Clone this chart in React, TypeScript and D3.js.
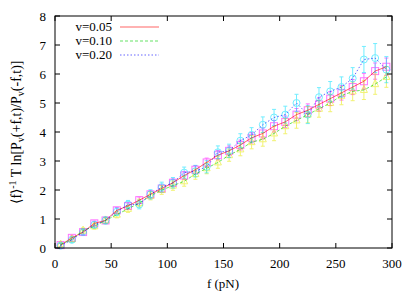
import React from "react";
import * as d3 from "d3";

const forces = [5, 15, 25, 35, 45, 55, 65, 75, 85, 95, 105, 115, 125, 135, 145, 155, 165, 175, 185, 195, 205, 215, 225, 235, 245, 255, 265, 275, 285, 295];

const seriesLabels = ["v=0.05", "v=0.10", "v=0.20"];

const valsV005 = [0.1, 0.35, 0.55, 0.85, 0.95, 1.3, 1.45, 1.65, 1.85, 2.05, 2.25, 2.5, 2.7, 2.95, 3.2, 3.35, 3.55, 3.8, 3.95, 4.2, 4.35, 4.6, 4.75, 4.95, 5.15, 5.35, 5.55, 5.75, 6.1, 6.25];
const valsV010 = [0.12, 0.3, 0.6, 0.75, 0.95, 1.15, 1.35, 1.55, 1.8, 2.0, 2.15, 2.3, 2.55, 2.75, 2.95, 3.2, 3.4, 3.65, 3.75, 3.95, 4.2, 4.4, 4.6, 4.8, 5.0, 5.25, 5.4, 5.45, 5.65, 5.9];
const valsV020 = [0.08, 0.28, 0.55, 0.8, 0.95, 1.25, 1.5, 1.5, 1.85, 2.1, 2.25, 2.6, 2.65, 2.8, 3.3, 3.35, 3.7, 3.9, 4.25, 4.5, 4.6, 5.0, 4.6, 5.2, 5.4, 5.55, 5.85, 6.5, 6.55, 6.15];

const errV005 = [0.06, 0.07, 0.08, 0.08, 0.09, 0.1, 0.1, 0.11, 0.12, 0.12, 0.13, 0.14, 0.14, 0.15, 0.16, 0.17, 0.17, 0.18, 0.19, 0.2, 0.2, 0.21, 0.22, 0.23, 0.24, 0.25, 0.26, 0.27, 0.28, 0.3];
const errV010 = [0.07, 0.08, 0.09, 0.1, 0.1, 0.11, 0.12, 0.13, 0.14, 0.15, 0.16, 0.17, 0.18, 0.19, 0.2, 0.21, 0.22, 0.23, 0.24, 0.25, 0.26, 0.27, 0.28, 0.29, 0.3, 0.31, 0.32, 0.33, 0.35, 0.36];
const errV020 = [0.08, 0.09, 0.1, 0.11, 0.12, 0.13, 0.14, 0.15, 0.16, 0.17, 0.18, 0.19, 0.2, 0.21, 0.22, 0.23, 0.24, 0.25, 0.27, 0.28, 0.29, 0.3, 0.31, 0.33, 0.34, 0.35, 0.37, 0.45, 0.5, 0.45];

const xTicks = [0, 50, 100, 150, 200, 250, 300];
const yTicks = [0, 1, 2, 3, 4, 5, 6, 7, 8];

const lineColors = ["#ff0000", "#00d000", "#0000ff"];
const lineDash = ["", "3,2", "1.5,2"];
const markerColors = ["#ff00ff", "#e8e800", "#00e0ff"];
const markerShapes = ["square", "triangle", "circle"];

const W = 415, H = 291;
const L = 55, R = 392, T = 16, B = 248;
const FONT = "'Liberation Serif', 'Times New Roman', serif";

function Marker({ shape, x, y, color }: { shape: string; x: number; y: number; color: string }) {
  const s = 3.5;
  if (shape === "square") return <rect x={x - s} y={y - s} width={2 * s} height={2 * s} fill="none" stroke={color} strokeWidth={1} />;
  if (shape === "circle") return <circle cx={x} cy={y} r={s} fill="none" stroke={color} strokeWidth={1} />;
  return <path d={`M${x},${y - s - 1}L${x + s},${y + s - 1}L${x - s},${y + s - 1}Z`} fill="none" stroke={color} strokeWidth={1} />;
}

export default function App() {
  const x = d3.scaleLinear().domain([0, 300]).range([L, R]);
  const y = d3.scaleLinear().domain([0, 8]).range([B, T]);
  const allVals = [valsV005, valsV010, valsV020];
  const allErr = [errV005, errV010, errV020];
  const line = d3.line<number>().x((_, i) => x(forces[i])).y((d) => y(d));

  return (
    <svg width={W} height={H} style={{ position: "absolute", left: 0, top: 0, fontFamily: FONT }}>
      <rect width={W} height={H} fill="#fff" />
      {allVals.map((vals, si) => (
        <g key={"m" + si} opacity={0.55}>
          {vals.map((v, i) => {
            const px = x(forces[i]);
            const e = allErr[si][i];
            return (
              <g key={i}>
                <line x1={px} x2={px} y1={y(v - e)} y2={y(v + e)} stroke={markerColors[si]} strokeWidth={1} />
                <line x1={px - 2} x2={px + 2} y1={y(v - e)} y2={y(v - e)} stroke={markerColors[si]} strokeWidth={1} />
                <line x1={px - 2} x2={px + 2} y1={y(v + e)} y2={y(v + e)} stroke={markerColors[si]} strokeWidth={1} />
                <Marker shape={markerShapes[si]} x={px} y={y(v)} color={markerColors[si]} />
              </g>
            );
          })}
        </g>
      ))}
      {allVals.map((vals, si) => (
        <path key={"l" + si} d={line(vals) || ""} fill="none" stroke={lineColors[si]} strokeDasharray={lineDash[si]} strokeWidth={1} opacity={0.6} />
      ))}
      <rect x={L} y={T} width={R - L} height={B - T} fill="none" stroke="#000" strokeWidth={1} />
      {xTicks.map((t) => (
        <g key={"xt" + t}>
          <line x1={x(t)} x2={x(t)} y1={B} y2={B - 5} stroke="#000" />
          <line x1={x(t)} x2={x(t)} y1={T} y2={T + 5} stroke="#000" />
          <text x={x(t)} y={268} textAnchor="middle" fontSize={13}>{t}</text>
        </g>
      ))}
      {yTicks.map((t) => (
        <g key={"yt" + t}>
          <line x1={L} x2={L + 5} y1={y(t)} y2={y(t)} stroke="#000" />
          <line x1={R} x2={R - 5} y1={y(t)} y2={y(t)} stroke="#000" />
          <text x={46} y={y(t) + 4.5} textAnchor="end" fontSize={13}>{t}</text>
        </g>
      ))}
      <text x={223} y={288} textAnchor="middle" fontSize={13}>f (pN)</text>
      <text transform={`translate(21,132) rotate(-90)`} textAnchor="middle" fontSize={14}>
        <tspan>⟨f⟩</tspan>
        <tspan fontSize={10} dy={-5}>-1</tspan>
        <tspan dy={5}> T ln[P</tspan>
        <tspan fontSize={10} dy={3}>v</tspan>
        <tspan dy={-3}>(+f,t)/P</tspan>
        <tspan fontSize={10} dy={3}>v</tspan>
        <tspan dy={-3}>(-f,t)]</tspan>
      </text>
      {seriesLabels.map((lab, i) => (
        <g key={"lg" + i}>
          <text x={112} y={31 + i * 14} textAnchor="end" fontSize={13}>{lab}</text>
          <line x1={120} x2={159} y1={27 + i * 14} y2={27 + i * 14} stroke={lineColors[i]} strokeDasharray={lineDash[i]} strokeWidth={1} opacity={0.6} />
        </g>
      ))}
    </svg>
  );
}
